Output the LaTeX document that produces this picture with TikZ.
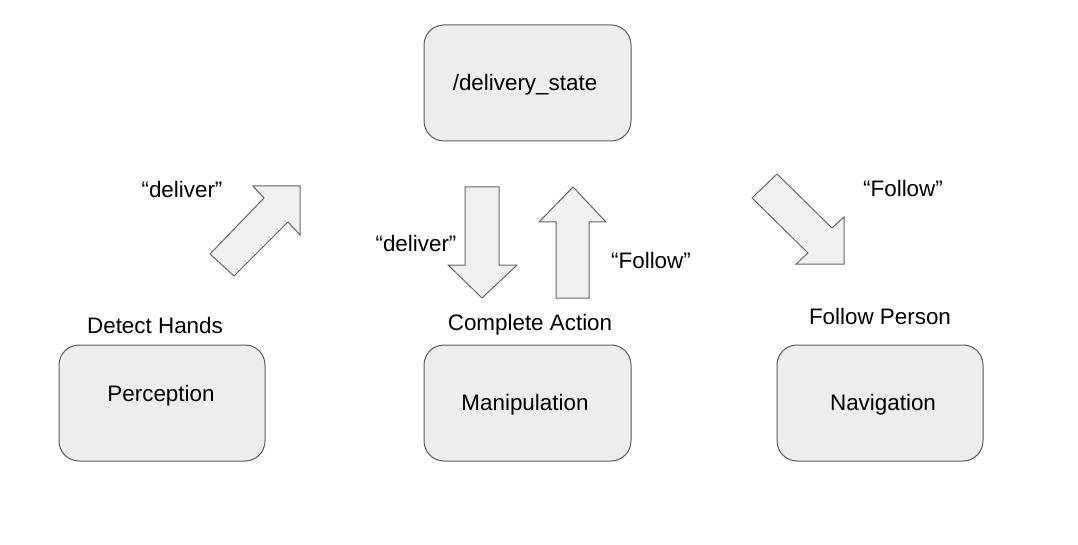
\documentclass[tikz,border=0pt]{standalone}
\usepackage{fontspec}
\setmainfont{Liberation Sans}
\begin{document}
\begin{tikzpicture}[x=1pt,y=-1pt,
  box/.style={draw=black!65,fill=black!7,rounded corners=20pt,line width=1pt},
  bigarrow/.style={draw=black!60,fill=black!6,line width=1pt,line join=miter},
  lbl/.style={inner sep=0pt,font=\fontsize{22.4}{26}\selectfont,text=black}]
\useasboundingbox (0,0) rectangle (1078,545);
% boxes
\draw[box] (424,25) rectangle (631,141);
\draw[box] (59,345) rectangle (265,461);
\draw[box] (424,345) rectangle (631,461);
\draw[box] (777,345) rectangle (983,461);
\node[lbl] (state) at (525,85) {/delivery\_state};
\node[lbl] (perc) at (161,396) {Perception};
\node[lbl] (manip) at (525,405) {Manipulation};
\node[lbl] (nav) at (883,405) {Navigation};
% labels
\node[lbl] (detect) at (155,325) {Detect Hands};
\node[lbl] (complete) at (530,325) {Complete Action};
\node[lbl] (follow) at (880,316) {Follow Person};
\node[lbl] (del1) at (182,189) {“deliver”};
\node[lbl] (del2) at (416,243) {“deliver”};
\node[lbl] (fol1) at (651,260) {“Follow”};
\node[lbl] (fol2) at (903,188) {“Follow”};
% block arrows
\draw[bigarrow] (300,186) -- (253,186) -- (264,198) -- (210,254) -- (234,276) -- (288,222) -- (300,235) -- cycle;
\draw[bigarrow] (465,187) -- (499,187) -- (499,265) -- (517,265) -- (482,298) -- (448,265) -- (465,265) -- cycle;
\draw[bigarrow] (573,187) -- (606,222) -- (589,222) -- (589,298) -- (556,298) -- (556,222) -- (539,222) -- cycle;
\draw[bigarrow] (777,174) -- (832,228) -- (844,217) -- (844,264) -- (796,264) -- (808,253) -- (752,198) -- cycle;
\end{tikzpicture}
\end{document}
